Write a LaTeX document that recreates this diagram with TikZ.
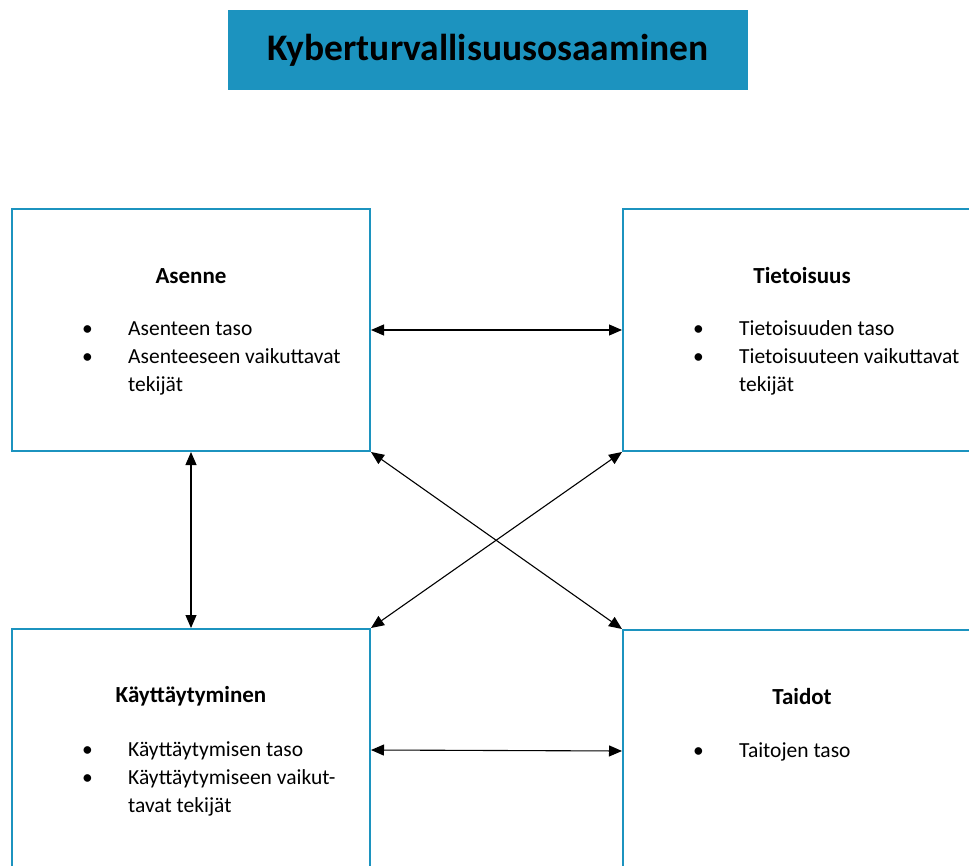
\documentclass[tikz,border=0pt]{standalone}
\usepackage{fontspec}
\setmainfont{Carlito}
\usetikzlibrary{positioning}
\usetikzlibrary{arrows.meta}
\definecolor{kybersini}{RGB}{28,147,191}
\newcommand{\luettelo}[1]{\begin{tabular}[t]{@{}p{46pt}@{}l@{}}#1\end{tabular}}

\begin{document}
\begin{tikzpicture}[x=1pt,y=1pt,
	osa/.style={draw=kybersini,line width=2pt,minimum width=358pt,minimum height=242pt,inner sep=0pt},
	otsikko/.style={font=\fontsize{23}{27}\selectfont\bfseries},
	lista/.style={font=\fontsize{21.5}{28}\selectfont,inner sep=0pt,anchor=base west},
	nuoli/.style={{Triangle[length=13pt,width=11pt]}-{Triangle[length=13pt,width=11pt]},line width=1.1pt}]
	\useasboundingbox (0,0) rectangle (969,-866);
	\node[fill=kybersini,minimum width=520pt,minimum height=80pt,font=\fontsize{37.5}{44}\selectfont\bfseries] (paaotsikko) at (488,-50) {Kyberturvallisuusosaaminen};
	\node[osa,anchor=north west] (asenne) at (11,-208) {};
	\node[osa,right=251pt of asenne] (tieto) {};
	\node[osa,below=176pt of asenne] (kaytos) {};
	\node[osa,right=251pt of kaytos,yshift=-1pt] (taidot) {};
	\node[otsikko] (asenneots) at ([yshift=-68pt]asenne.north) {Asenne};
	\node[otsikko] (tieto_ots) at ([yshift=-68pt]tieto.north) {Tietoisuus};
	\node[otsikko] (kaytosots) at ([yshift=-68pt]kaytos.north) {Käyttäytyminen};
	\node[otsikko] (taidotots) at ([yshift=-68pt]taidot.north) {Taidot};
	\node[lista] (asennelista) at ([xshift=71pt,yshift=-128pt]asenne.north west) {\luettelo{\textbullet & Asenteen taso\\ \textbullet & Asenteeseen vaikuttavat\\ & tekijät}};
	\node[lista] (tietolista) at ([xshift=71pt,yshift=-128pt]tieto.north west) {\luettelo{\textbullet & Tietoisuuden taso\\ \textbullet & Tietoisuuteen vaikuttavat\\ & tekijät}};
	\node[lista] (kaytoslista) at ([xshift=71pt,yshift=-128pt]kaytos.north west) {\luettelo{\textbullet & Käyttäytymisen taso\\ \textbullet & Käyttäytymiseen vaikut-\\ & tavat tekijät}};
	\node[lista] (taidotlista) at ([xshift=71pt,yshift=-128pt]taidot.north west) {\luettelo{\textbullet & Taitojen taso}};
	\draw[nuoli] (asenne) -- (tieto);
	\draw[nuoli] (kaytos.east) -- (taidot.west);
	\draw[nuoli] (asenne) -- (kaytos);
	\draw[nuoli] (asenne.south east) -- (taidot.north west);
	\draw[nuoli] (tieto.south west) -- (kaytos.north east);
\end{tikzpicture}
\end{document}
